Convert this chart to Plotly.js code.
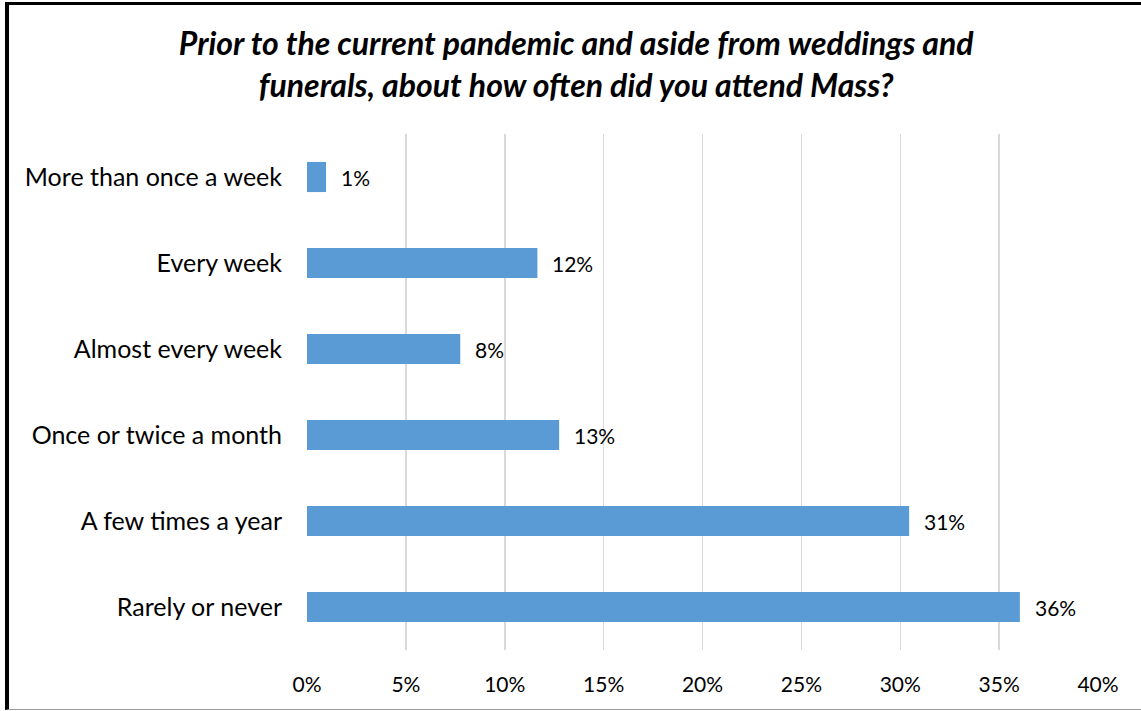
<!DOCTYPE html>
<html>
<head>
<meta charset="utf-8">
<script src="https://cdn.plot.ly/plotly-3.0.1.min.js"></script>
<style>
  html, body { margin: 0; padding: 0; background: #fff; }
  #wrap { position: relative; width: 1141px; height: 711px; overflow: hidden; }
  #chart { position: absolute; left: 0; top: 0; width: 1141px; height: 711px; }
  #frame { position: absolute; left: 5px; top: 2px; width: 1140px; height: 704px;
           border-left: 4px solid #000; border-top: 3px solid #000; border-bottom: 1px solid #9a9a9a;
           pointer-events: none; }
</style>
</head>
<body>
<div id="wrap">
  <div id="chart"></div>
  <div id="frame"></div>
</div>
<script>
const categories = [
  "More than once a week",
  "Every week",
  "Almost every week",
  "Once or twice a month",
  "A few times a year",
  "Rarely or never"
];
const values = [0.96, 11.65, 7.75, 12.75, 30.45, 36.05];
const labels = ["1%", "12%", "8%", "13%", "31%", "36%"];
const xTicks = [0, 5, 10, 15, 20, 25, 30, 35, 40];
const xTickText = ["0%", "5%", "10%", "15%", "20%", "25%", "30%", "35%", "40%"];

const FONT = "Lato, 'Open Sans', sans-serif";

const trace = {
  type: "bar",
  orientation: "h",
  y: categories,
  x: values,
  width: 0.35,
  marker: { color: "#5b9bd5" },
  hoverinfo: "none"
};

const annotations = values.map((v, i) => ({
  x: v, y: categories[i], xref: "x", yref: "y",
  text: labels[i], showarrow: false,
  xanchor: "left", yanchor: "middle", xshift: 13,
  font: { family: FONT, size: 21, color: "#000" }
}));

const layout = {
  width: 1141, height: 711,
  margin: { l: 307, r: 43, t: 134, b: 61 },
  paper_bgcolor: "#fff", plot_bgcolor: "#fff",
  showlegend: false,
  title: {
    text: "Prior to the current pandemic and aside from weddings and<br>funerals, about how often did you attend Mass?",
    x: 0.505, xanchor: "center", y: 0.922, yanchor: "top",
    font: { family: FONT, size: 32, color: "#000", weight: "bold", style: "italic" }
  },
  xaxis: {
    range: [0, 40], tickvals: xTicks, ticktext: xTickText,
    showgrid: true, gridcolor: "#d9d9d9", gridwidth: 1.5,
    zeroline: false, showline: false, ticks: "",
    ticklabelstandoff: 20,
    tickfont: { family: FONT, size: 21, color: "#000" },
    fixedrange: true
  },
  yaxis: {
    categoryorder: "array", categoryarray: categories,
    autorange: "reversed",
    showgrid: false, zeroline: false, showline: false, ticks: "",
    ticklabelstandoff: 24,
    tickfont: { family: FONT, size: 25, color: "#000" },
    fixedrange: true
  },
  annotations: annotations
};

Plotly.newPlot("chart", [trace], layout, { displayModeBar: false, staticPlot: true });
</script>
</body>
</html>
